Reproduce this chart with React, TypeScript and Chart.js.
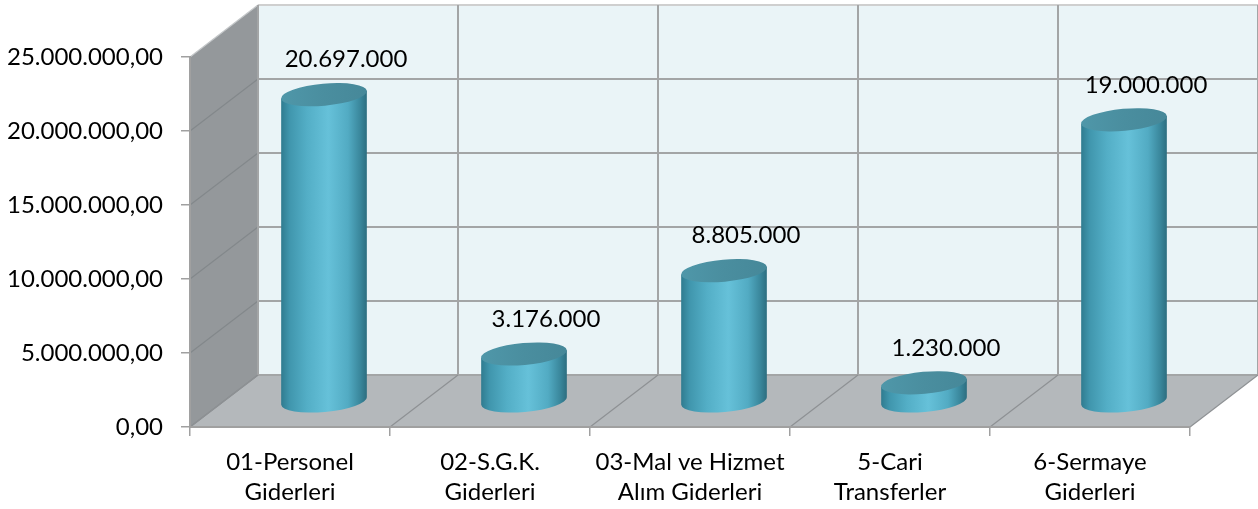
import { useEffect, useRef } from 'react';
import { Chart, registerables } from 'chart.js';

Chart.register(...registerables);

const categories: string[][] = [
  ['01-Personel', 'Giderleri'],
  ['02-S.G.K.', 'Giderleri'],
  ['03-Mal ve Hizmet', 'Alım Giderleri'],
  ['5-Cari', 'Transferler'],
  ['6-Sermaye', 'Giderleri'],
];
const values: number[] = [20697000, 3176000, 8805000, 1230000, 19000000];
const yMin = 0;
const yMax = 25000000;
const yStep = 5000000;

const FONT = 'Lato';
const FS = 24;
const DX = 68;
const DY = -52;

function fmtInt(n: number): string {
  return Math.round(n).toString().replace(/\B(?=(\d{3})+(?!\d))/g, '.');
}
function fmtDec(n: number): string {
  const whole = Math.floor(n);
  const frac = Math.round((n - whole) * 100);
  return fmtInt(whole) + ',' + String(frac).padStart(2, '0');
}

function drawCylinder(ctx: CanvasRenderingContext2D, cx: number, yTop: number, yBot: number, rx: number, ry: number, rot: number) {
  const c = Math.cos(rot);
  const s = Math.sin(rot);
  const g = ctx.createLinearGradient(cx - rx, 0, cx + rx, 0);
  g.addColorStop(0, '#2F7B8F');
  g.addColorStop(0.1, '#4096AD');
  g.addColorStop(0.3, '#53AEC6');
  g.addColorStop(0.55, '#66C1D9');
  g.addColorStop(0.78, '#52ABC3');
  g.addColorStop(0.92, '#3A879C');
  g.addColorStop(1, '#2C6D7F');
  ctx.beginPath();
  ctx.moveTo(cx - rx * c, yTop - rx * s);
  ctx.ellipse(cx, yBot, rx, ry, rot, Math.PI, 0, true);
  ctx.lineTo(cx + rx * c, yTop + rx * s);
  ctx.closePath();
  ctx.fillStyle = g;
  ctx.fill();
  const tg = ctx.createLinearGradient(cx - rx, yTop, cx + rx, yTop);
  tg.addColorStop(0, '#4F97A9');
  tg.addColorStop(0.5, '#4A8E9F');
  tg.addColorStop(1, '#468899');
  ctx.beginPath();
  ctx.ellipse(cx, yTop, rx, ry, rot, 0, Math.PI * 2);
  ctx.fillStyle = tg;
  ctx.fill();
}

const scene3d = {
  id: 'scene3d',
  beforeDraw(chart: any) {
    const { ctx, chartArea: a, scales } = chart;
    const x = scales.x;
    const y = scales.y;
    const L = a.left, R = a.right, T = a.top, B = a.bottom;
    ctx.save();
    ctx.fillStyle = '#ffffff';
    ctx.fillRect(0, 0, chart.width, chart.height);
    // back wall
    ctx.fillStyle = '#EAF4F7';
    ctx.fillRect(L + DX, T + DY, R - L, B - T);
    // side wall
    ctx.beginPath();
    ctx.moveTo(L, T);
    ctx.lineTo(L + DX, T + DY);
    ctx.lineTo(L + DX, B + DY);
    ctx.lineTo(L, B);
    ctx.closePath();
    ctx.fillStyle = '#94989B';
    ctx.fill();
    // floor
    ctx.beginPath();
    ctx.moveTo(L, B);
    ctx.lineTo(R, B);
    ctx.lineTo(R + DX, B + DY);
    ctx.lineTo(L + DX, B + DY);
    ctx.closePath();
    ctx.fillStyle = '#B4B8BB';
    ctx.fill();
    // horizontal grid lines
    for (const t of y.ticks) {
      const py = y.getPixelForValue(t.value);
      ctx.strokeStyle = t.value === yMax ? '#CFCFCF' : '#A3A5A6';
      ctx.lineWidth = 2;
      ctx.beginPath();
      ctx.moveTo(L + DX, py + DY);
      ctx.lineTo(R + DX, py + DY);
      ctx.stroke();
      ctx.strokeStyle = t.value === yMax ? '#C4C7C9' : '#83888B';
      ctx.lineWidth = 1.2;
      ctx.beginPath();
      ctx.moveTo(L, py);
      ctx.lineTo(L + DX, py + DY);
      ctx.stroke();
    }
    // category boundaries
    for (let i = 0; i <= categories.length; i++) {
      const bx = x.getPixelForValue(i - 0.5);
      ctx.strokeStyle = '#A3A5A6';
      ctx.lineWidth = 2;
      ctx.beginPath();
      ctx.moveTo(bx + DX, T + DY);
      ctx.lineTo(bx + DX, B + DY);
      ctx.stroke();
      ctx.strokeStyle = '#8E9194';
      ctx.lineWidth = 1.2;
      ctx.beginPath();
      ctx.moveTo(bx, B);
      ctx.lineTo(bx + DX, B + DY);
      ctx.stroke();
    }
    ctx.restore();
  },
  afterDatasetsDraw(chart: any) {
    const { ctx } = chart;
    const meta = chart.getDatasetMeta(0);
    const y = chart.scales.y;
    ctx.save();
    meta.data.forEach((el: any) => {
      const cx = el.x + DX / 2;
      const yTop = el.y + DY / 2;
      const yBot = y.getPixelForValue(0) + DY / 2;
      drawCylinder(ctx, cx, yTop, yBot, el.width / 2, 11, -0.09);
    });
    ctx.font = `${FS}px ${FONT}`;
    ctx.fillStyle = '#000000';
    ctx.textAlign = 'center';
    ctx.textBaseline = 'middle';
    meta.data.forEach((el: any, i: number) => {
      const cx = el.x + DX / 2 + 22;
      const cy = el.y + DY / 2 - 35;
      ctx.fillText(fmtInt(values[i]), cx, cy);
    });
    ctx.restore();
  },
};

export default function App() {
  const ref = useRef<HTMLCanvasElement>(null);
  useEffect(() => {
    if (!ref.current) return;
    const chart = new Chart(ref.current, {
      type: 'bar',
      data: {
        labels: categories,
        datasets: [
          {
            data: values,
            backgroundColor: 'rgba(0,0,0,0)',
            borderWidth: 0,
            barPercentage: 0.43,
            categoryPercentage: 1,
          },
        ],
      },
      options: {
        animation: false,
        responsive: true,
        maintainAspectRatio: false,
        layout: { padding: { top: 57, right: 68, left: 0, bottom: 0 } },
        plugins: { legend: { display: false }, tooltip: { enabled: false } },
        scales: {
          x: {
            grid: {
              display: true,
              drawOnChartArea: false,
              drawTicks: true,
              tickLength: 9,
              color: '#A0A0A0',
              lineWidth: 1.5,
              offset: true,
            },
            border: { display: true, color: '#A0A0A0', width: 2 },
            ticks: {
              font: { family: FONT, size: FS, lineHeight: 1.25 },
              color: '#000000',
              padding: 11,
              maxRotation: 0,
              autoSkip: false,
            },
            afterFit: (s: any) => {
              s.height = 82;
            },
          },
          y: {
            min: yMin,
            max: yMax,
            grid: {
              display: true,
              drawOnChartArea: false,
              drawTicks: true,
              tickLength: 9,
              color: '#A0A0A0',
              lineWidth: 1.5,
            },
            border: { display: true, color: '#A0A0A0', width: 2 },
            ticks: {
              stepSize: yStep,
              callback: (v: any) => fmtDec(Number(v)),
              font: { family: FONT, size: FS },
              color: '#000000',
              padding: 18,
            },
            afterFit: (s: any) => {
              s.width = 190;
            },
          },
        },
      },
      plugins: [scene3d],
    } as any);
    return () => chart.destroy();
  }, []);
  return (
    <div style={{ position: 'fixed', left: 0, top: 0, width: 1258, height: 509 }}>
      <canvas ref={ref} />
    </div>
  );
}
